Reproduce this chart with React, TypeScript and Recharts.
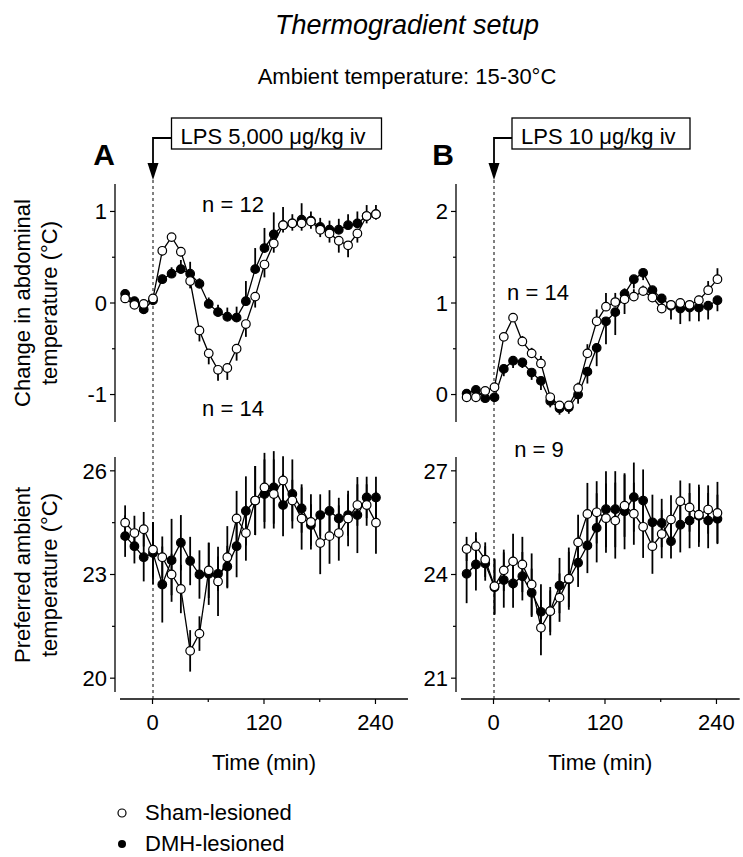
import { LineChart, Line, XAxis, YAxis, ErrorBar } from 'recharts';

// sampling times, min relative to the LPS injection
const TIME = [-30, -20, -10, 0, 10, 20, 30, 40, 50, 60, 70, 80, 90, 100, 110, 120, 130, 140, 150, 160, 170, 180, 190, 200, 210, 220, 230, 240];
const TIME_TICKS = [0, 60, 120, 180, 240];
const TIME_LABELS = [0, 120, 240];

// A, abdominal temperature change (°C)
const A_ABD_SHAM = [0.05, -0.02, -0.01, 0.05, 0.57, 0.72, 0.56, 0.24, -0.3, -0.55, -0.73, -0.71, -0.5, -0.23, 0.07, 0.42, 0.65, 0.85, 0.87, 0.87, 0.89, 0.8, 0.76, 0.68, 0.63, 0.76, 0.95, 0.97];
const A_ABD_DMH = [0.1, 0.02, -0.07, 0.03, 0.26, 0.32, 0.37, 0.32, 0.21, -0.01, -0.1, -0.15, -0.16, 0.02, 0.37, 0.6, 0.75, 0.85, 0.87, 0.91, 0.9, 0.83, 0.8, 0.8, 0.85, 0.87, 0.95, 0.97];
const A_ABD_SHAM_SEM = [0.03, 0.04, 0.03, 0.04, 0.05, 0.05, 0.05, 0.08, 0.12, 0.12, 0.12, 0.13, 0.13, 0.14, 0.12, 0.14, 0.1, 0.08, 0.08, 0.08, 0.08, 0.08, 0.1, 0.13, 0.13, 0.1, 0.08, 0.06];
const A_ABD_DMH_SEM = [0.04, 0.04, 0.04, 0.04, 0.05, 0.07, 0.1, 0.13, 0.06, 0.07, 0.08, 0.1, 0.12, 0.22, 0.23, 0.22, 0.24, 0.2, 0.1, 0.18, 0.1, 0.1, 0.1, 0.12, 0.12, 0.13, 0.12, 0.1];

// A, preferred ambient temperature (°C)
const A_PREF_SHAM = [24.5, 24.2, 24.31, 23.72, 23.5, 23.0, 22.58, 20.79, 21.29, 23.12, 22.8, 23.5, 24.62, 24.2, 25.14, 25.52, 25.33, 25.72, 25.14, 24.62, 24.52, 23.91, 24.11, 24.2, 24.62, 25.01, 25.01, 24.5];
const A_PREF_DMH = [24.11, 23.82, 23.5, 23.62, 22.71, 23.41, 23.92, 23.39, 23.0, 23.02, 23.02, 23.23, 23.82, 24.84, 25.14, 25.33, 25.52, 25.01, 25.33, 24.91, 24.43, 24.72, 24.84, 24.62, 24.72, 24.72, 25.23, 25.23];
const A_PREF_SHAM_SEM = [0.5, 0.5, 0.5, 0.8, 0.6, 0.6, 0.7, 0.6, 0.5, 0.8, 1.0, 0.9, 0.8, 0.8, 1.0, 1.0, 1.0, 0.7, 0.6, 0.9, 0.8, 0.9, 0.8, 0.8, 0.8, 0.6, 0.6, 0.9];
const A_PREF_DMH_SEM = [0.6, 0.5, 0.7, 0.9, 1.1, 1.2, 0.8, 0.7, 0.7, 0.9, 0.5, 0.6, 0.9, 1.0, 1.0, 1.0, 1.05, 0.9, 1.0, 0.7, 0.6, 0.6, 0.6, 0.6, 0.6, 1.1, 0.6, 0.6];

// B, abdominal temperature change (°C)
const B_ABD_SHAM = [-0.03, -0.03, 0.04, 0.08, 0.63, 0.84, 0.58, 0.45, 0.34, -0.03, -0.12, -0.12, 0.07, 0.45, 0.8, 0.96, 1.01, 1.04, 1.07, 1.13, 1.06, 0.94, 0.98, 1.0, 0.98, 1.03, 1.14, 1.26];
const B_ABD_DMH = [0.01, 0.05, -0.04, -0.03, 0.28, 0.37, 0.35, 0.24, 0.15, -0.07, -0.15, -0.14, 0.0, 0.25, 0.51, 0.8, 0.9, 1.1, 1.26, 1.33, 1.14, 1.05, 0.97, 0.94, 0.95, 0.95, 0.97, 1.03];
const B_ABD_SHAM_SEM = [0.03, 0.03, 0.03, 0.04, 0.05, 0.05, 0.06, 0.06, 0.08, 0.05, 0.04, 0.04, 0.06, 0.1, 0.13, 0.15, 0.1, 0.12, 0.08, 0.06, 0.05, 0.06, 0.05, 0.05, 0.05, 0.05, 0.1, 0.12];
const B_ABD_DMH_SEM = [0.04, 0.04, 0.04, 0.04, 0.08, 0.08, 0.06, 0.08, 0.1, 0.07, 0.07, 0.07, 0.1, 0.13, 0.2, 0.25, 0.25, 0.22, 0.1, 0.08, 0.1, 0.15, 0.15, 0.17, 0.15, 0.15, 0.15, 0.12];

// B, preferred ambient temperature (°C)
const B_PREF_SHAM = [24.74, 24.82, 24.43, 23.66, 24.12, 24.38, 24.29, 23.71, 22.46, 22.94, 23.33, 23.88, 24.93, 25.75, 25.8, 25.63, 25.56, 25.99, 25.76, 25.38, 24.82, 25.17, 25.59, 26.12, 25.94, 25.73, 25.88, 25.78];
const B_PREF_DMH = [24.02, 24.29, 24.32, 23.63, 23.84, 23.74, 23.95, 23.47, 22.92, 22.94, 23.68, 23.86, 24.34, 24.84, 25.35, 25.89, 25.89, 25.83, 26.24, 26.14, 25.51, 25.49, 24.96, 25.44, 25.56, 25.7, 25.56, 25.61];
const B_PREF_SHAM_SEM = [0.35, 0.4, 0.5, 0.8, 0.6, 0.8, 0.8, 0.9, 0.8, 0.6, 0.7, 0.9, 0.8, 0.9, 0.9, 1.0, 1.1, 0.9, 0.9, 0.9, 0.8, 0.7, 0.7, 0.6, 0.7, 0.8, 0.7, 0.9];
const B_PREF_DMH_SEM = [0.85, 0.75, 0.5, 0.8, 0.8, 0.7, 0.7, 0.7, 0.8, 0.7, 0.8, 0.8, 0.7, 0.8, 1.0, 1.1, 1.1, 1.1, 1.0, 0.9, 0.8, 0.7, 0.5, 0.8, 0.8, 0.9, 0.8, 0.7];

const FONT = '"Liberation Sans", Arial, Helvetica, sans-serif';
const FS = 22;

// layout (page px)
const PPM = 0.929; // px per minute
const PAD = 10;
const YW = 60;
const COL_A = { axisX: 115, zeroX: 153, tMax: 275 };
const COL_B = { axisX: 455.5, zeroX: 494, tMax: 265 };
const TOP_ROW = { top: 184, height: 238 };
const BOTTOM_ROW = { top: 457, height: 235 };
const X_AXIS_Y = 699;

type Dir = 'up' | 'down' | 'both';
const bar = (e: number, dir: Dir) => (dir === 'down' ? [e, 0] : dir === 'up' ? [0, e] : [e, e]);

function YTick({ x, y, payload, labels }: any) {
  const major = labels.includes(payload.value);
  return (
    <g>
      <line x1={x} x2={x - (major ? 5 : 3)} y1={y} y2={y} stroke="#000" strokeWidth={1.2} />
      {major && (
        <text x={x - 8} y={y} dy="0.36em" textAnchor="end" fontSize={FS} fill="#000" fontFamily={FONT}>
          {payload.value}
        </text>
      )}
    </g>
  );
}

function XTick({ x, y, payload }: any) {
  const major = TIME_LABELS.includes(payload.value);
  return (
    <g>
      <line x1={x} x2={x} y1={y} y2={y + (major ? 5 : 3)} stroke="#000" strokeWidth={1.2} />
      {major && (
        <text x={x} y={y + 31} textAnchor="middle" fontSize={FS} fill="#000" fontFamily={FONT}>
          {payload.value}
        </text>
      )}
    </g>
  );
}

function Panel(props: any) {
  const { col, row, sham, dmh, shamErr, dmhErr, shamDir, dmhDir, yDomain, yTicks, yLabels } = props;
  const tMin = (col.axisX - col.zeroX) / PPM;
  const plotW = (col.tMax - tMin) * PPM;
  const data = TIME.map((t, i) => ({
    t,
    sham: sham[i],
    dmh: dmh[i],
    shamErr: bar(shamErr[i], shamDir),
    dmhErr: bar(dmhErr[i], dmhDir),
  }));

  return (
    <div style={{ position: 'absolute', left: col.axisX - YW, top: row.top - PAD }}>
      <LineChart width={YW + plotW + PAD} height={row.height + 2 * PAD} data={data} margin={{ top: PAD, right: PAD, bottom: PAD, left: 0 }}>
        <XAxis dataKey="t" type="number" domain={[tMin, col.tMax]} hide allowDataOverflow />
        <YAxis
          type="number"
          width={YW}
          domain={yDomain}
          ticks={yTicks}
          interval={0}
          allowDataOverflow
          tickLine={false}
          tickSize={0}
          tickMargin={0}
          axisLine={{ stroke: '#000', strokeWidth: 1.3 }}
          tick={(p: any) => <YTick {...p} labels={yLabels} />}
        />
        <Line dataKey="dmh" type="linear" stroke="#000" strokeWidth={1.3} dot={{ r: 4.3, fill: '#000', stroke: '#000', strokeWidth: 1.2 }} activeDot={false} isAnimationActive={false}>
          <ErrorBar dataKey="dmhErr" direction="y" width={0} stroke="#000" strokeWidth={1.8} isAnimationActive={false} />
        </Line>
        <Line dataKey="sham" type="linear" stroke="#000" strokeWidth={1.3} dot={{ r: 4.3, fill: '#fff', stroke: '#000', strokeWidth: 1.2 }} activeDot={false} isAnimationActive={false}>
          <ErrorBar dataKey="shamErr" direction="y" width={0} stroke="#000" strokeWidth={1.8} isAnimationActive={false} />
        </Line>
      </LineChart>
    </div>
  );
}

function TimeAxis({ col }: any) {
  const tMin = -35;
  const plotW = (col.tMax - tMin) * PPM;
  const left = col.zeroX + tMin * PPM;
  return (
    <div style={{ position: 'absolute', left: left - PAD, top: X_AXIS_Y - 1 }}>
      <LineChart width={plotW + 2 * PAD} height={91} data={TIME.map((t) => ({ t }))} margin={{ top: 0, right: PAD, bottom: 0, left: PAD }}>
        <XAxis
          dataKey="t"
          type="number"
          domain={[tMin, col.tMax]}
          allowDataOverflow
          ticks={TIME_TICKS}
          interval={0}
          height={90}
          tickLine={false}
          tickSize={0}
          tickMargin={0}
          axisLine={{ stroke: '#000', strokeWidth: 1.3 }}
          tick={XTick}
          label={{ value: 'Time (min)', position: 'insideBottom', offset: 19, fontSize: FS, fill: '#000', fontFamily: FONT }}
        />
        <YAxis hide domain={[0, 1]} />
      </LineChart>
    </div>
  );
}

function LpsArrow({ zeroX, boxX, boxW, text }: any) {
  return (
    <g>
      <rect x={boxX} y={118} width={boxW} height={31} fill="#fff" stroke="#000" strokeWidth={1.3} />
      <text x={boxX + 9} y={144} fontSize={FS} fill="#000">{text}</text>
      <path d={`M${boxX} 138 H${zeroX} V165`} fill="none" stroke="#000" strokeWidth={1.8} />
      <polygon points={`${zeroX - 5.5},163 ${zeroX + 5.5},163 ${zeroX},180`} fill="#000" />
      <line x1={zeroX} x2={zeroX} y1={180} y2={X_AXIS_Y} stroke="#000" strokeWidth={1} strokeDasharray="3 3" />
    </g>
  );
}

export default function App() {
  return (
    <div style={{ position: 'relative', width: 743, height: 857, background: '#fff', fontFamily: FONT, overflow: 'hidden' }}>
      <style>{'body{margin:0}'}</style>
      <svg width={743} height={857} style={{ position: 'absolute', left: 0, top: 0 }} fontFamily={FONT}>
        <text x={407} y={34} textAnchor="middle" fontSize={27} fontStyle="italic" fill="#000">Thermogradient setup</text>
        <text x={407} y={84} textAnchor="middle" fontSize={FS} fill="#000">Ambient temperature: 15-30°C</text>

        <text x={104} y={165} textAnchor="middle" fontSize={30} fontWeight="bold" fill="#000">A</text>
        <text x={443} y={165} textAnchor="middle" fontSize={30} fontWeight="bold" fill="#000">B</text>
        <LpsArrow zeroX={COL_A.zeroX} boxX={171.5} boxW={210} text="LPS 5,000 μg/kg iv" />
        <LpsArrow zeroX={COL_B.zeroX} boxX={512} boxW={178} text="LPS 10 μg/kg iv" />

        <g transform="translate(30,303) rotate(-90)">
          <text textAnchor="middle" fontSize={FS} fill="#000">Change in abdominal</text>
          <text y={27} textAnchor="middle" fontSize={FS} fill="#000">temperature (°C)</text>
        </g>
        <g transform="translate(30,575) rotate(-90)">
          <text textAnchor="middle" fontSize={FS} fill="#000">Preferred ambient</text>
          <text y={27} textAnchor="middle" fontSize={FS} fill="#000">temperature (°C)</text>
        </g>

        <text x={233} y={212} textAnchor="middle" fontSize={FS} fill="#000">n = 12</text>
        <text x={233} y={416} textAnchor="middle" fontSize={FS} fill="#000">n = 14</text>
        <text x={538} y={300} textAnchor="middle" fontSize={FS} fill="#000">n = 14</text>
        <text x={539} y={457} textAnchor="middle" fontSize={FS} fill="#000">n = 9</text>

        <circle cx={122} cy={813} r={4} fill="#fff" stroke="#000" strokeWidth={1.2} />
        <text x={145} y={820} fontSize={FS} fill="#000">Sham-lesioned</text>
        <circle cx={122} cy={844} r={4} fill="#000" />
        <text x={145} y={851} fontSize={FS} fill="#000">DMH-lesioned</text>
      </svg>

      <Panel col={COL_A} row={TOP_ROW} sham={A_ABD_SHAM} dmh={A_ABD_DMH} shamErr={A_ABD_SHAM_SEM} dmhErr={A_ABD_DMH_SEM} shamDir="down" dmhDir="up" yDomain={[-1.3, 1.3]} yTicks={[-1, -0.5, 0, 0.5, 1]} yLabels={[-1, 0, 1]} />
      <Panel col={COL_A} row={BOTTOM_ROW} sham={A_PREF_SHAM} dmh={A_PREF_DMH} shamErr={A_PREF_SHAM_SEM} dmhErr={A_PREF_DMH_SEM} shamDir="both" dmhDir="both" yDomain={[19.6, 26.4]} yTicks={[20, 21.5, 23, 24.5, 26]} yLabels={[20, 23, 26]} />
      <Panel col={COL_B} row={TOP_ROW} sham={B_ABD_SHAM} dmh={B_ABD_DMH} shamErr={B_ABD_SHAM_SEM} dmhErr={B_ABD_DMH_SEM} shamDir="up" dmhDir="down" yDomain={[-0.3, 2.3]} yTicks={[0, 0.5, 1, 1.5, 2]} yLabels={[0, 1, 2]} />
      <Panel col={COL_B} row={BOTTOM_ROW} sham={B_PREF_SHAM} dmh={B_PREF_DMH} shamErr={B_PREF_SHAM_SEM} dmhErr={B_PREF_DMH_SEM} shamDir="both" dmhDir="both" yDomain={[20.6, 27.4]} yTicks={[21, 22.5, 24, 25.5, 27]} yLabels={[21, 24, 27]} />

      <TimeAxis col={COL_A} />
      <TimeAxis col={COL_B} />
    </div>
  );
}
